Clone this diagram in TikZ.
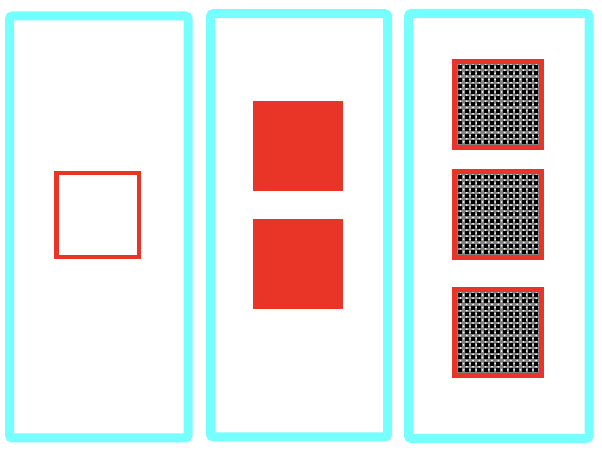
\documentclass[tikz,border=0pt]{standalone}
\usepackage{tikz}
\definecolor{panelcyan}{RGB}{118,255,255}
\definecolor{tilered}{RGB}{232,53,40}
\tikzset{
  panel/.style={draw=panelcyan, line width=6.4pt, rounded corners=2pt},
  redbox/.style={draw=tilered, line width=3.3pt},
  redfill/.style={fill=tilered},
  meshbg/.style={fill=black!50},
  meshhole/.style={fill=black},
  meshdot/.style={fill=white},
}
\begin{document}
\begin{tikzpicture}
\useasboundingbox (0,0) rectangle (15.05,11.3);
\draw[panel] (0.238,0.350) rectangle (4.700,10.900);
\draw[panel] (5.263,0.375) rectangle (9.688,10.958);
\draw[panel] (10.213,0.338) rectangle (14.725,10.963);
% single empty tile
\draw[redbox] (1.418,4.875) rectangle (3.475,6.975);
% two solid tiles
\fill[redfill] (6.333,6.533) rectangle (8.583,8.783);
\fill[redfill] (6.333,3.575) rectangle (8.583,5.825);
% three meshed tiles
\foreach \by in {7.613,4.863,1.913}{
  \fill[meshbg] (11.433,\by+0.063) rectangle (13.483,\by+2.088);
  \foreach \i in {0,...,12}{
    \foreach \j in {0,...,12}{
      \fill[meshhole] ({11.433+(\i+0.5)*0.1577-0.05},{\by+0.063+(\j+0.5)*0.1558-0.05}) rectangle ++(0.1,0.1);
      \fill[meshdot] ({11.433+(\i+1)*0.1577},{\by+0.063+(\j+0.5)*0.1558}) circle (0.024);
      \fill[meshdot] ({11.433+(\i+0.5)*0.1577},{\by+0.063+(\j+1)*0.1558}) circle (0.024);
    }
  }
  \draw[redbox] (11.370,\by) rectangle (13.545,\by+2.15);
}
\end{tikzpicture}
\end{document}
